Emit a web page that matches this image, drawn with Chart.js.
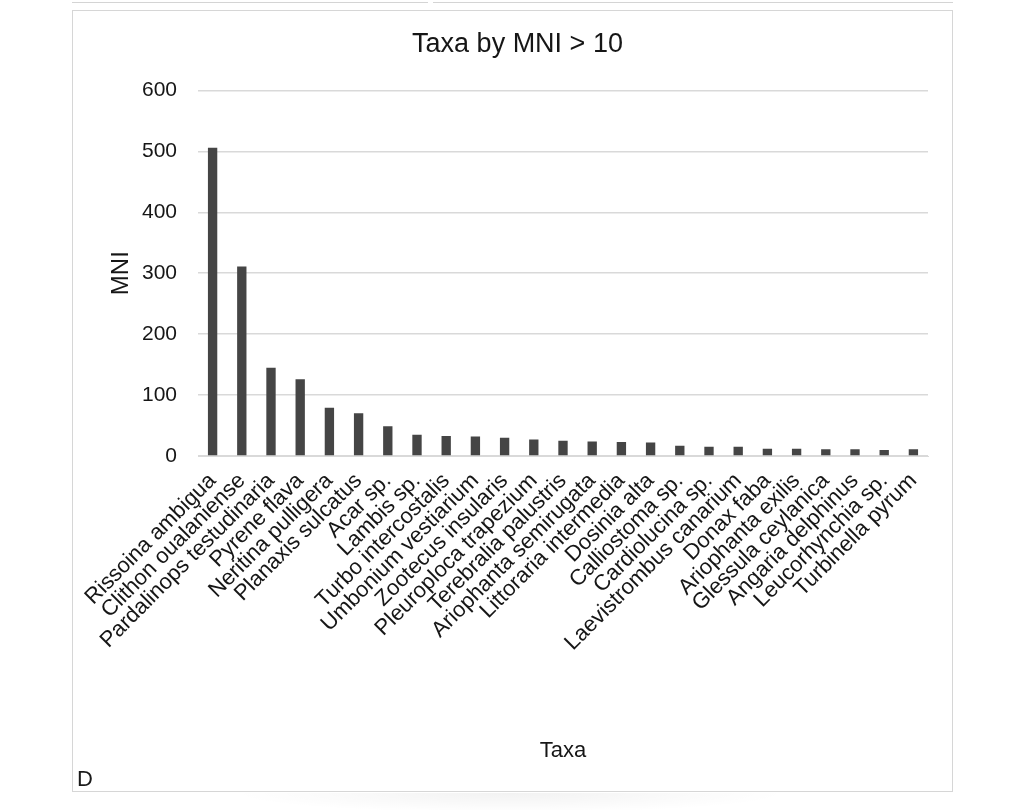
<!DOCTYPE html>
<html>
<head>
<meta charset="utf-8">
<script src="https://cdn.jsdelivr.net/npm/chart.js@4.4.1/dist/chart.umd.min.js"></script>
<style>
  html, body { margin: 0; padding: 0; background: #fff; }
  body { width: 1024px; height: 810px; position: relative; overflow: hidden; font-family: "Liberation Sans", Arial, sans-serif; }
  .top-edge { position: absolute; top: 0; height: 2px; border-bottom: 1px solid #d4d4d4; }
  .panel { position: absolute; left: 72px; top: 10px; width: 881px; height: 782px; }
  .panel-border { position: absolute; left: 72px; top: 10px; width: 881px; height: 782px; box-sizing: border-box; border: 1px solid #d6d6d6; pointer-events: none; }
  .shadow { position: absolute; left: 230px; top: 793px; width: 560px; height: 20px;
    background: radial-gradient(ellipse at 50% 0%, rgba(0,0,0,0.05), rgba(0,0,0,0) 70%); }
  .tag { position: absolute; left: 77px; top: 766px; font-size: 22px; color: #1a1a1a; }
</style>
</head>
<body>
<div class="top-edge" style="left:72px;width:356px"></div>
<div class="top-edge" style="left:433px;width:520px"></div>
<div class="shadow"></div>
<div class="panel"><canvas id="mni-chart" width="881" height="782"></canvas></div>
<div class="panel-border"></div>
<div class="tag">D</div>
<script>
const taxa = [
    "Rissoina ambigua", "Clithon oualaniense", "Pardalinops testudinaria", "Pyrene flava",
    "Neritina pulligera", "Planaxis sulcatus", "Acar sp.", "Lambis sp.", "Turbo intercostalis",
    "Umbonium vestiarium", "Zootecus insularis", "Pleuroploca trapezium", "Terebralia palustris",
    "Ariophanta semirugata", "Littoraria intermedia", "Dosinia alta", "Calliostoma sp.",
    "Cardiolucina sp.", "Laevistrombus canarium", "Donax faba", "Ariophanta exilis",
    "Glessula ceylanica", "Angaria delphinus", "Leucorhynchia sp.", "Turbinella pyrum"
];
const mniValues = [506, 311, 145, 126, 79, 70, 49, 35, 33, 32, 30, 27, 25, 24, 23, 22, 17, 15, 15, 12, 12, 11, 11, 10, 11];
const yTicks = [0, 100, 200, 300, 400, 500, 600];

const fontFamily = '"Liberation Sans", Arial, sans-serif';
const gridColor = "#d9d9d9";
const textColor = "#161616";

new Chart(document.getElementById("mni-chart"), {
    type: "bar",
    data: {
        labels: taxa,
        datasets: [
            {
                label: "MNI",
                data: mniValues,
                backgroundColor: "#454545",
                barPercentage: 0.32,
                categoryPercentage: 1,
            },
        ],
    },
    options: {
        responsive: false,
        animation: false,
        layout: { padding: { left: 35, right: 25, top: 0, bottom: 20 } },
        plugins: {
            legend: { display: false },
            tooltip: { enabled: false },
            title: {
                display: true,
                text: "Taxa by MNI > 10",
                color: textColor,
                font: { family: fontFamily, size: 27, weight: "normal" },
                padding: { top: 18, bottom: 30 },
            },
        },
        scales: {
            x: {
                grid: { display: false },
                border: { display: true, color: gridColor },
                ticks: {
                    autoSkip: false,
                    minRotation: 45,
                    maxRotation: 45,
                    padding: 4,
                    color: textColor,
                    font: { family: fontFamily, size: 22 },
                },
                title: {
                    display: true,
                    text: "Taxa",
                    color: textColor,
                    font: { family: fontFamily, size: 22 },
                    padding: { top: 0, bottom: 8 },
                },
                afterFit: (axis) => { axis.height = 316; },
            },
            y: {
                min: 0,
                max: 600,
                afterBuildTicks: (axis) => { axis.ticks = yTicks.map((v) => ({ value: v })); },
                grid: { color: gridColor, lineWidth: 1.5, drawTicks: false },
                border: { display: false },
                ticks: {
                    padding: 21,
                    color: textColor,
                    font: { family: fontFamily, size: 21 },
                },
                title: {
                    display: true,
                    text: "MNI",
                    color: textColor,
                    font: { family: fontFamily, size: 24 },
                    padding: { top: 0, bottom: 0 },
                },
                afterFit: (axis) => { axis.width = 91; },
            },
        },
    },
});
</script>
</body>
</html>
